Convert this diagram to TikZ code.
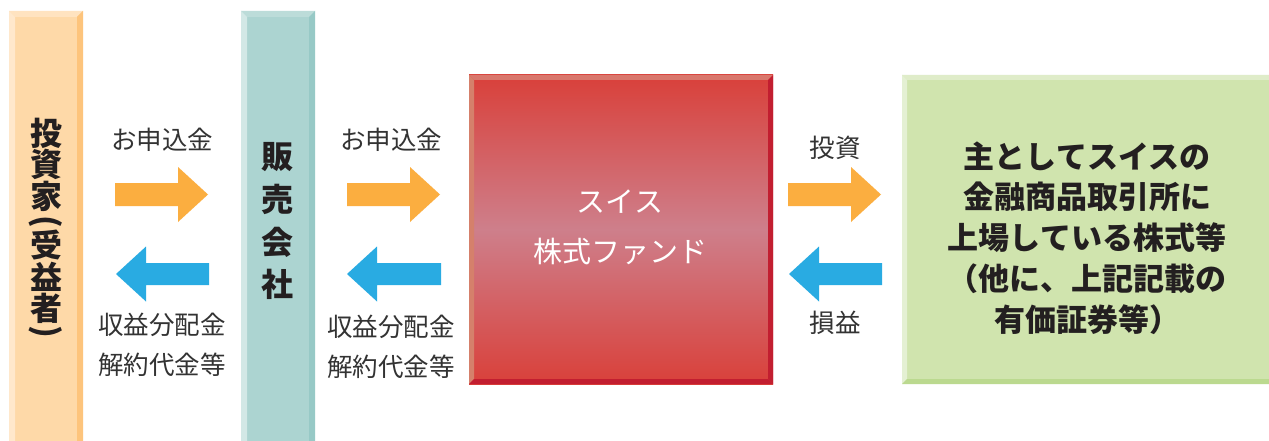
\documentclass[tikz,border=0pt]{standalone}
\usepackage{fontspec}
\usepackage{graphicx}
\newfontfamily\jp{Noto Sans CJK JP}
\definecolor{oMain}{HTML}{FED9A8}
\definecolor{oTop}{HTML}{FFE3C0}
\definecolor{oLeft}{HTML}{FFE8CC}
\definecolor{oRight}{HTML}{FDC47C}
\definecolor{tMain}{HTML}{ACD4D1}
\definecolor{tTop}{HTML}{BCDCD9}
\definecolor{tLeft}{HTML}{D2E8E6}
\definecolor{tRight}{HTML}{97C9C6}
\definecolor{rEdge}{HTML}{D9403A}
\definecolor{rMid}{HTML}{CE7F8B}
\definecolor{rTop}{HTML}{D9776C}
\definecolor{rLeft}{HTML}{D5806B}
\definecolor{rDark}{HTML}{C21E30}
\definecolor{gMain}{HTML}{D0E4AE}
\definecolor{gTop}{HTML}{DFECC9}
\definecolor{gLeft}{HTML}{E4F0D3}
\definecolor{gBottom}{HTML}{BBD98F}
\definecolor{arrO}{HTML}{FBAE40}
\definecolor{arrB}{HTML}{29ABE2}
\definecolor{lbl}{HTML}{333333}
\definecolor{txt}{HTML}{231F20}
\newcommand\rightarr[4]{% x1 xbase x2 yc
  \fill[arrO] (#1,#4-11.5) -- (#2,#4-11.5) -- (#2,#4-27.5) -- (#3,#4) -- (#2,#4+27.5) -- (#2,#4+11.5) -- (#1,#4+11.5) -- cycle;}
\newcommand\leftarr[4]{% xtip xbase x2 yc
  \fill[arrB] (#3,#4-11) -- (#2,#4-11) -- (#2,#4-27.5) -- (#1,#4) -- (#2,#4+27.5) -- (#2,#4+11) -- (#3,#4+11) -- cycle;}
\tikzset{
  vch/.style={inner sep=0pt, anchor=center, text=txt, font=\jp\bfseries\fontsize{32}{32}\selectfont},
  lab/.style={inner sep=0pt, anchor=center, text=lbl, font=\jp\fontsize{25.5}{40}\selectfont, align=center},
  fundtext/.style={inner sep=0pt, anchor=center, text=white, font=\jp\fontsize{29}{50}\selectfont, align=center},
  stocktext/.style={inner sep=0pt, anchor=center, text=txt, font=\jp\bfseries\fontsize{31}{40.8}\selectfont, align=center}
}
\begin{document}
\begin{tikzpicture}[x=1pt,y=-1pt]
\useasboundingbox (0,0) rectangle (1269,441);
\fill[white] (0,0) rectangle (1269,441);
% investor bar
\fill[oMain] (9,11) rectangle (83,441);
\fill[oTop] (9,11) -- (83,11) -- (77,17) -- (15,17) -- cycle;
\fill[oLeft] (9,11) -- (15,17) -- (15,441) -- (9,441) -- cycle;
\fill[oRight] (83,11) -- (83,441) -- (77,441) -- (77,17) -- cycle;
% distributor bar
\fill[tMain] (241,11) rectangle (315,441);
\fill[tTop] (241,11) -- (315,11) -- (309,17) -- (247,17) -- cycle;
\fill[tLeft] (241,11) -- (247,17) -- (247,441) -- (241,441) -- cycle;
\fill[tRight] (315,11) -- (315,441) -- (309,441) -- (309,17) -- cycle;
% fund box
\shade[top color=rEdge, bottom color=rEdge, middle color=rMid] (469,75) rectangle (773,384);
\fill[rTop] (469,75) -- (773,75) -- (768,80) -- (474,80) -- cycle;
\fill[rLeft] (469,75) -- (474,80) -- (474,379) -- (469,384) -- cycle;
\fill[rDark] (773,75) -- (773,384) -- (768,379) -- (768,80) -- cycle;
\fill[rDark] (469,384) -- (773,384) -- (768,379) -- (474,379) -- cycle;
% stocks box
\fill[gMain] (902,75) rectangle (1269,384);
\fill[gTop] (902,75) -- (1269,75) -- (1269,80) -- (907,80) -- cycle;
\fill[gLeft] (902,75) -- (907,80) -- (907,379) -- (902,384) -- cycle;
\fill[gBottom] (902,384) -- (1269,384) -- (1269,379) -- (907,379) -- cycle;
% arrows
\rightarr{115}{178}{208}{194.5}
\leftarr{116}{146}{209}{274}
\rightarr{347}{410}{440}{194.5}
\leftarr{347}{377}{441}{274}
\rightarr{788}{851}{881}{194.5}
\leftarr{789}{819}{882}{274}
% investor vertical text
\node[vch] (v1) at (46,133) {投};
\node[vch] (v2) at (46,164.5) {資};
\node[vch] (v3) at (46,196) {家};
\node[vch] (v4) at (46,221.5) {\rotatebox{-90}{(}};
\node[vch] (v5) at (46,245.5) {受};
\node[vch] (v6) at (46,277) {益};
\node[vch] (v7) at (46,308.5) {者};
\node[vch] (v8) at (46,331.5) {\rotatebox{-90}{)}};
% distributor vertical text
\node[vch] (d1) at (277,157) {販};
\node[vch] (d2) at (277,199) {売};
\node[vch] (d3) at (277,242) {会};
\node[vch] (d4) at (277,284) {社};
% labels
\node[lab] (l1) at (162,140) {お申込金};
\node[lab] (l2) at (162,345) {収益分配金\\解約代金等};
\node[lab] (l3) at (391,140) {お申込金};
\node[lab] (l4) at (391,347) {収益分配金\\解約代金等};
\node[lab] (l5) at (835,148) {投資};
\node[lab] (l6) at (835,323) {損益};
% box texts
\node[fundtext] (fund) at (620,227) {スイス\\株式ファンド};
\node[stocktext] (stocks) at (1087,238) {主としてスイスの\\金融商品取引所に\\上場している株式等\\（他に、上記記載の\\有価証券等）};
\end{tikzpicture}
\end{document}
